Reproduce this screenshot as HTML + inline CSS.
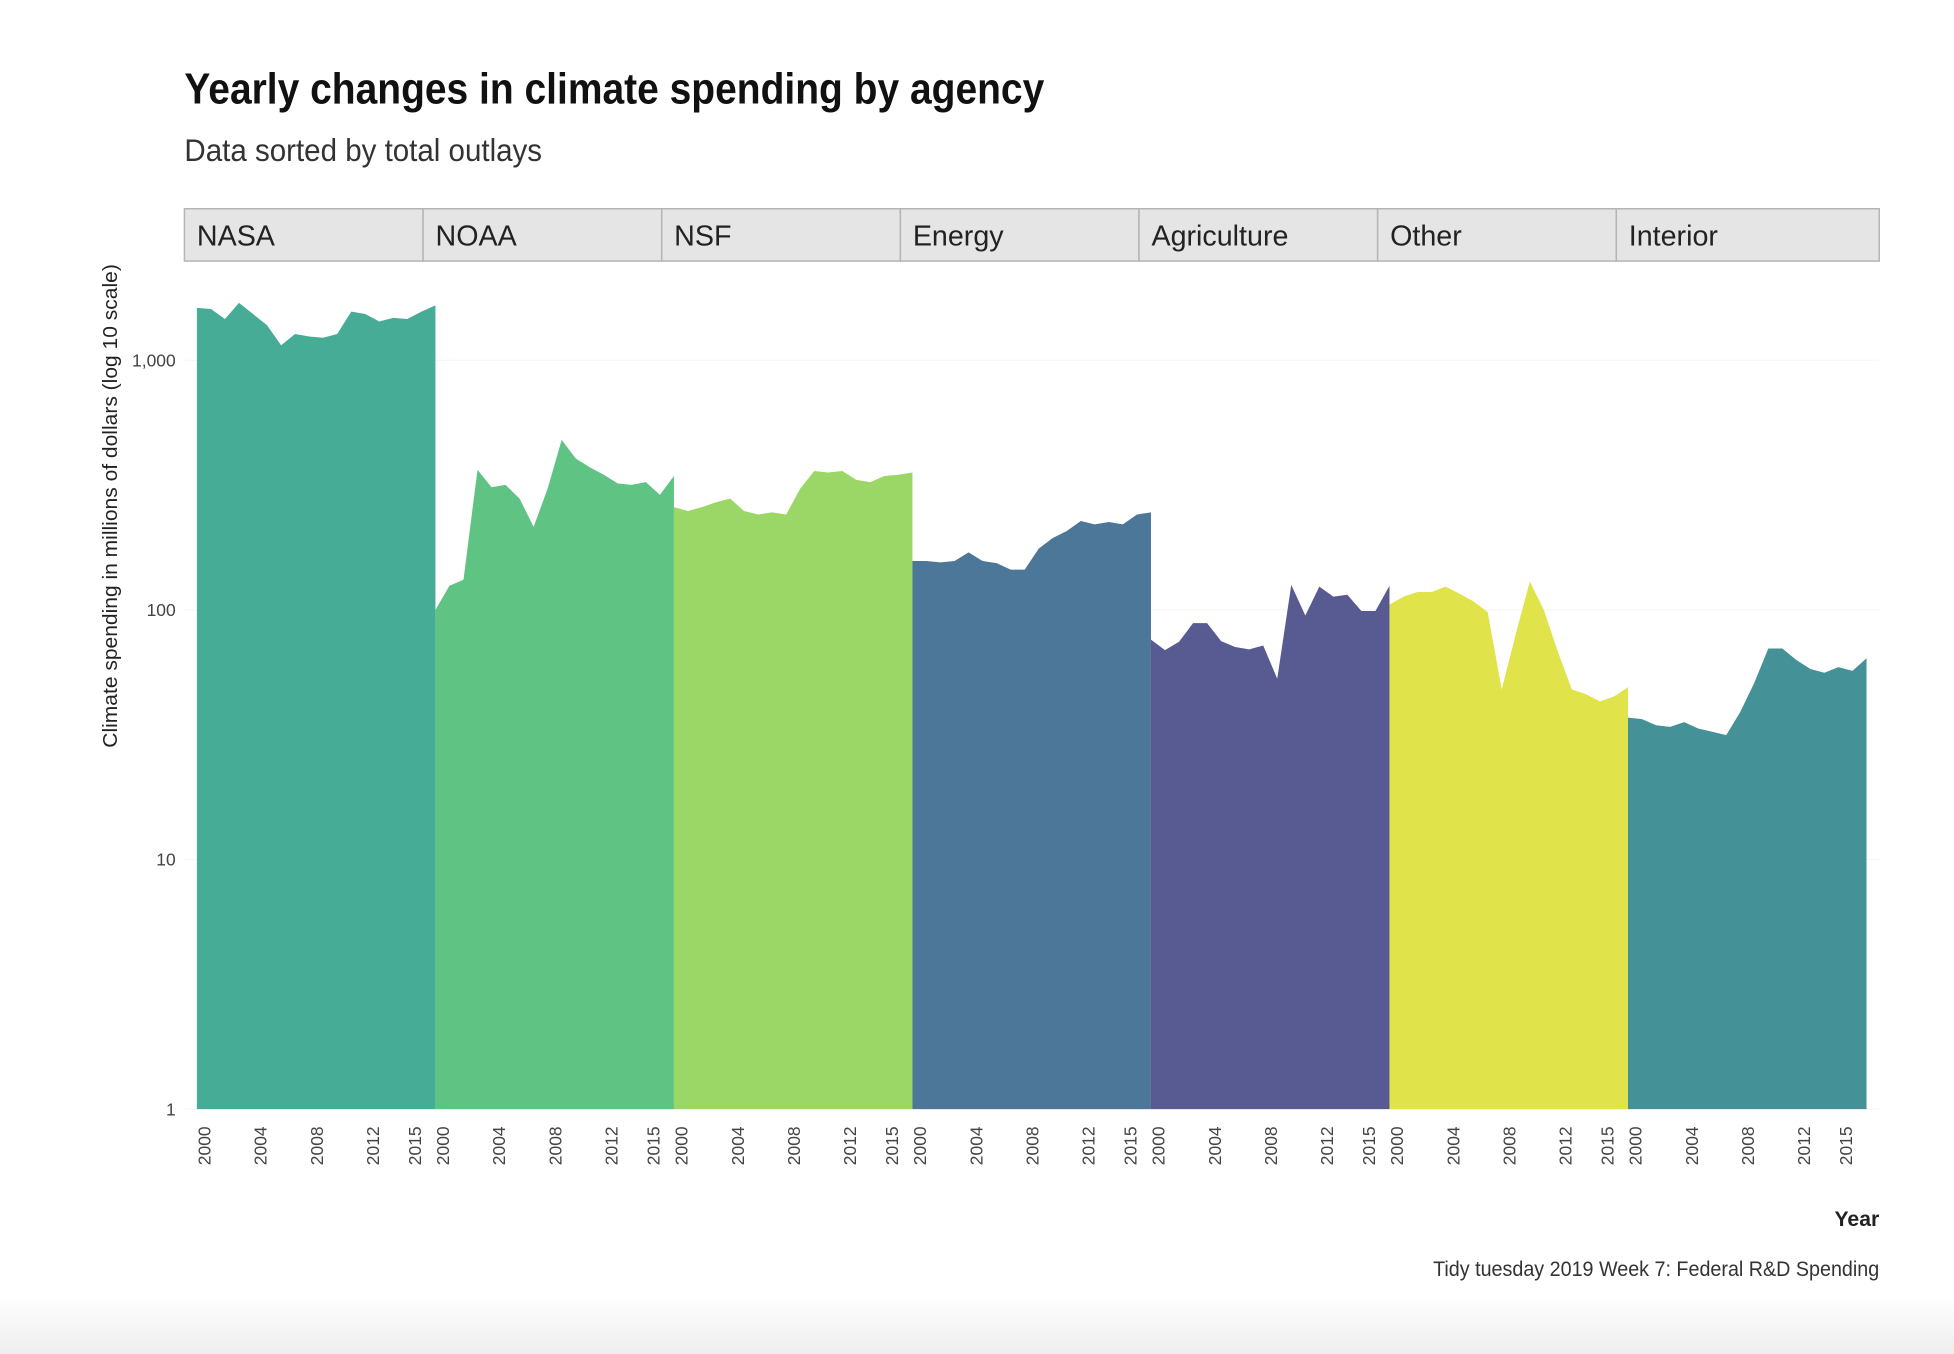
<!DOCTYPE html>
<html><head><meta charset="utf-8"><style>
html,body{margin:0;padding:0;background:#fff;}
svg{display:block;}
text{font-family:"Liberation Sans Narrow","Liberation Sans",sans-serif;}
</style></head><body>
<svg id="chart" width="1954" height="1354" viewBox="0 0 1568 1086.5" preserveAspectRatio="none">
<defs><linearGradient id="bg" x1="0" y1="0" x2="0" y2="1"><stop offset="0" stop-color="#fff"/><stop offset="1" stop-color="#eee"/></linearGradient></defs>
<rect x="0" y="1040" width="1568" height="47" fill="url(#bg)"/>
<text x="148" y="83" font-size="35" font-weight="bold" fill="#111" textLength="690" lengthAdjust="spacingAndGlyphs">Yearly changes in climate spending by agency</text>
<text x="148" y="129" font-size="25" fill="#333" textLength="287" lengthAdjust="spacingAndGlyphs">Data sorted by total outlays</text>
<g id="panels"></g>
<text transform="translate(94,406) rotate(-90)" text-anchor="middle" font-size="16" fill="#222" textLength="388" lengthAdjust="spacingAndGlyphs">Climate spending in millions of dollars (log 10 scale)</text>
<text x="1508" y="984" text-anchor="end" font-size="17" font-weight="bold" fill="#222">Year</text>
<text x="1508" y="1024" text-anchor="end" font-size="17" fill="#333" textLength="358" lengthAdjust="spacingAndGlyphs">Tidy tuesday 2019 Week 7: Federal R&amp;D Spending</text>
</svg>
<script>
const agencies = ["NASA","NOAA","NSF","Energy","Agriculture","Other","Interior"];
const colors = ["#47ac95","#5ec383","#9ad766","#4d7798","#585b91","#e0e34a","#449197"];
const years = [2000,2001,2002,2003,2004,2005,2006,2007,2008,2009,2010,2011,2012,2013,2014,2015,2016,2017];
const nasa = [1622,1604,1463,1698,1532,1381,1149,1275,1245,1231,1275,1567,1532,1430,1479,1463,1567,1660];
const noaa = [100,125,132,364,310,317,279,215,306,480,404,373,348,321,317,325,289,344];
const nsf = [258,249,258,270,279,249,241,246,241,306,360,355,360,332,325,344,348,355];
const energy = [157,157,155,157,170,157,154,145,145,176,194,207,227,220,225,220,241,246];
const agriculture = [76,69,74.5,88.5,88.5,75,71,69.5,72,53,126,95,124,113,115,99,99,125];
const other = [105,113,118,118,124,116,108,98,48,80,130,100,68,48,46,43,45,49];
const interior = [37,36.5,34.5,34,35.5,33.5,32.5,31.5,39,51,70,70,63,58,56,59,57,64];
const series = [nasa,noaa,nsf,energy,agriculture,other,interior];
const yTicks = [1,10,100,1000];
const yTickLabels = ["1","10","100","1,000"];
const xTicks = [2000,2004,2008,2012,2015];

const NS="http://www.w3.org/2000/svg";
const g=document.getElementById('panels');
const plotX0=158, panelW=191.4, yBase=890, decade=200.3;
function yScale(v){return yBase-Math.log10(v)*decade;}
function xScale(p,yr){return plotX0+p*panelW+(yr-years[0])/(years[years.length-1]-years[0])*panelW;}
function mk(tag,attrs){const e=document.createElementNS(NS,tag);for(const k in attrs)e.setAttribute(k,attrs[k]);return e;}
yTicks.forEach((t,i)=>{
  const l=mk('line',{x1:148,x2:1508,y1:yScale(t),y2:yScale(t),stroke:'#f7f7f7','stroke-width':1});
  
  
  g.appendChild(l);
  const tx=mk('text',{x:141,y:yScale(t)+5,'text-anchor':'end','font-size':14,fill:'#444'});
  tx.textContent=yTickLabels[i];
  
  
  g.appendChild(tx);
});
agencies.forEach((a,p)=>{
  const sx=148+p*191.5, sw=(p===6?1508-sx:191.5);
  const strip=mk('rect',{x:sx,y:167.5,width:sw,height:42,fill:'#e5e5e5',stroke:'#b5b5b5','stroke-width':1.2});
  
  
  g.appendChild(strip);
  const st=mk('text',{x:sx+10,y:197,'font-size':23,fill:'#222'});
  st.textContent=a;
  
  
  g.appendChild(st);
  const vals=series[p];
  let d='M'+xScale(p,years[0])+','+yBase;
  vals.forEach((v,i)=>{d+=' L'+xScale(p,years[i]).toFixed(2)+','+yScale(v).toFixed(2);});
  d+=' L'+xScale(p,years[years.length-1])+','+yBase+' Z';
  const path=mk('path',{d:d,fill:colors[p]});
  
  
  g.appendChild(path);
  xTicks.forEach(yr=>{
    const x=xScale(p,yr)+11;
    const t=mk('text',{transform:`translate(${x},935) rotate(-90)`,'font-size':14,fill:'#444'});
    t.textContent=String(yr);
    
    
    g.appendChild(t);
  });
});
</script>
</body></html>
